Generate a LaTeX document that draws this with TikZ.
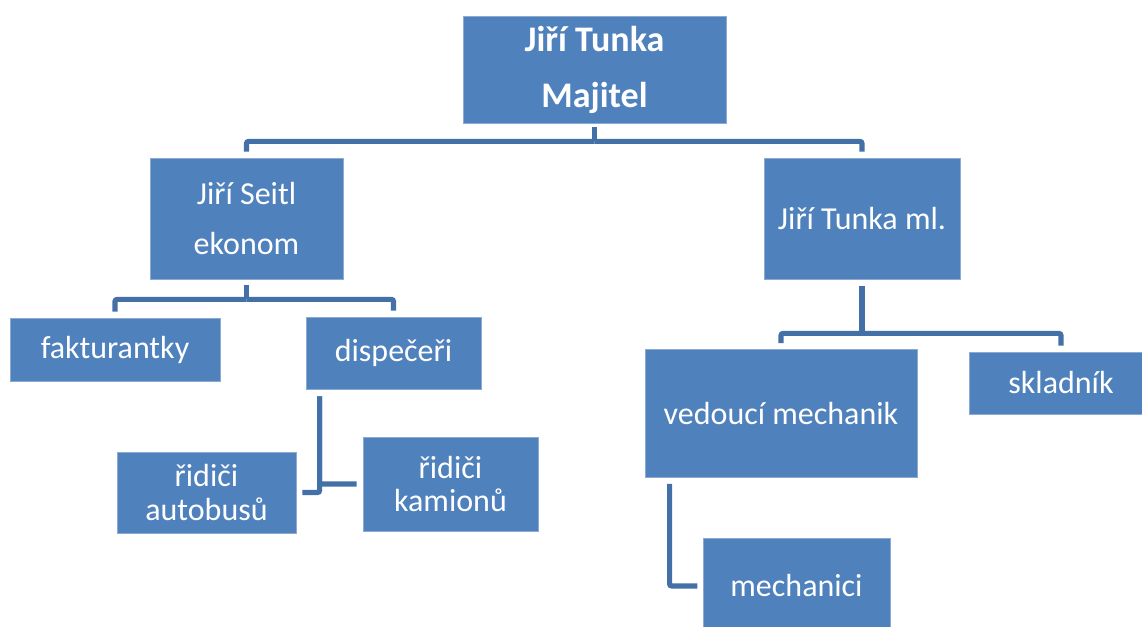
\documentclass[tikz,border=0pt]{standalone}
\usepackage{fontspec}
\setmainfont{Carlito}
\definecolor{boxblue}{RGB}{79,129,189}
\definecolor{boxedge}{RGB}{140,170,210}
\definecolor{connblue}{RGB}{67,112,166}
\begin{document}
\begin{tikzpicture}[x=0.75pt,y=-0.75pt,
  box/.style={rectangle, fill=boxblue, draw=boxedge, line width=0.6pt, text=white, align=center, inner sep=0pt,
    font=\fontsize{24}{25}\selectfont},
  sz/.style 2 args={minimum width=#1*0.75pt, minimum height=#2*0.75pt},
  conn/.style={draw=connblue, line width=3.8pt, rounded corners=1.5pt},
]
\useasboundingbox (0,0) rectangle (1142,627);
\node[box, sz={263}{107}, font=\bfseries\fontsize{27}{42}\selectfont] (top) at (594.5,69.5) {Jiří Tunka\\Majitel};
\node[box, sz={193}{121}, font=\fontsize{24}{37}\selectfont] (seitl) at (246.5,218.5) {Jiří Seitl\\ekonom};
\node[box, sz={196}{121}] (ml) at (862,218.5) {Jiří Tunka ml.};
\node[box, sz={210}{63}] (fakt) at (115,349.5) {fakturantky};
\node[box, sz={175}{72}] (disp) at (393.5,353) {dispečeři};
\node[box, sz={179}{81}] (bus) at (206.5,492.5) {řidiči\\autobusů};
\node[box, sz={175}{94}] (kam) at (450.5,484) {řidiči\\kamionů};
\node[box, sz={272}{128}] (ved) at (781,413.5) {vedoucí mechanik};
\node[box, sz={184}{62}] (skl) at (1061,383) {skladník};
\node[box, sz={187}{96}] (mech) at (796.5,586) {mechanici};

\draw[conn, shorten <=3pt] (top.south) -- ++(0,18) coordinate (tj);
\draw[conn, shorten >=4.5pt] (tj) -| (seitl.north);
\draw[conn, shorten >=4.5pt] (tj) -| (ml.north);

\draw[conn, shorten <=4.5pt] (seitl.south) -- ++(0,20) coordinate (sj);
\draw[conn, shorten >=4.5pt] (sj) -| (fakt.north);
\draw[conn, shorten >=4.5pt] (sj) -| (disp.north);

\draw[conn, shorten <=5pt] (ml.south) -- ++(0,54) coordinate (mj);
\draw[conn, shorten >=4.5pt] (mj) -| (ved.north);
\draw[conn, shorten >=4.5pt] (mj) -| (skl.north);

\draw[conn, shorten >=4.5pt] ([shift={(14,7)}]disp.south west) |- (bus.east);
\draw[conn, shorten >=4.5pt] ([shift={(14,7)}]disp.south west) |- (kam.west);

\draw[conn, shorten >=4pt] ([shift={(25,6)}]ved.south west) |- (mech.west);
\end{tikzpicture}
\end{document}
